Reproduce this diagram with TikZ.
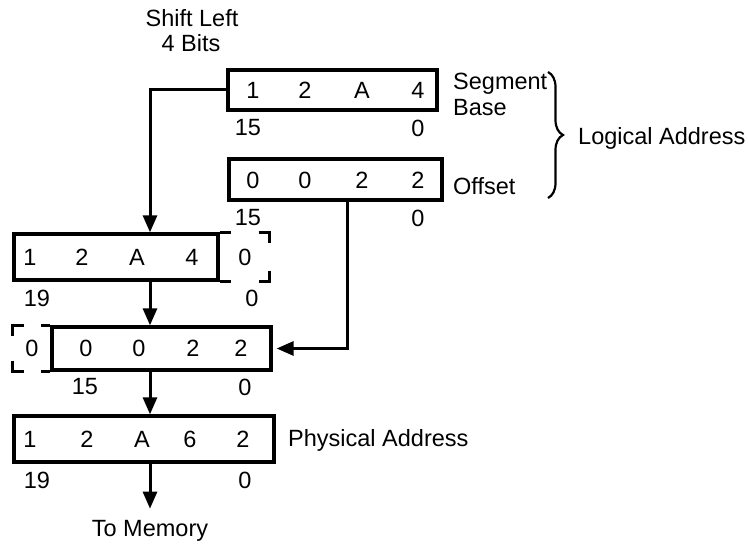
\documentclass[tikz,border=0pt]{standalone}
\usepackage{fontspec}
\setmainfont{Liberation Sans}
\usetikzlibrary{arrows.meta,calc,decorations.pathreplacing}
\begin{document}
\begin{tikzpicture}[x=1pt,y=-1pt,
  every node/.style={font=\fontsize{23.5}{27}\selectfont, inner sep=0pt},
  regbox/.style={draw, line width=3.3pt, inner sep=0pt},
  arr/.style={line width=3pt, -{Triangle[width=14pt,length=17pt]}},
  brk/.style={line width=3pt},
  word/.style={anchor=base west},
  ctext/.style={anchor=base}]
\useasboundingbox (0,0) rectangle (748,545);

% helper columns
\coordinate (col) at (150,0);
\coordinate (offx) at (347,0);

% boxes
\node[regbox, minimum width=209pt, minimum height=40pt] (seg) at (332.5,90) {};
\node[regbox, minimum width=213pt, minimum height=41pt] (off) at (335.5,179.5) {};
\node[regbox, minimum width=204pt, minimum height=46pt] (b2) at (116,257) {};
\node[regbox, minimum width=219pt, minimum height=43pt] (b3) at (161.5,348.5) {};
\node[regbox, minimum width=260pt, minimum height=46pt] (b4) at (144,439) {};

% segment base digits
\node (s1) at (253,90) {1};
\node (s2) at (305,90) {2};
\node (s3) at (362,90) {A};
\node (s4) at (418,90) {4};
\node (sl1) at (248,128) {15};
\node (sl2) at (418,128) {0};

% offset digits
\node (o1) at (253,180) {0};
\node (o2) at (305,180) {0};
\node (o3) at (362,180) {2};
\node (o4) at (418,180) {2};
\node (ol1) at (248,218) {15};
\node (ol2) at (418,218) {0};

% box 2 digits
\node (t1) at (30,257) {1};
\node (t2) at (82,257) {2};
\node (t3) at (137,257) {A};
\node (t4) at (192,257) {4};
\node (t5) at (245,257) {0};
\node (tl1) at (37,298) {19};
\node (tl2) at (252,298) {0};

% box 3 digits
\node (u0) at (32,348.5) {0};
\node (u1) at (86,348.5) {0};
\node (u2) at (139,348.5) {0};
\node (u3) at (193,348.5) {2};
\node (u4) at (241,348.5) {2};
\node (ul1) at (85,387) {15};
\node (ul2) at (245,387) {0};

% box 4 digits
\node (v1) at (30,439) {1};
\node (v2) at (87,439) {2};
\node (v3) at (142,439) {A};
\node (v4) at (190,439) {6};
\node (v5) at (243,439) {2};
\node (vl1) at (37,480) {19};
\node (vl2) at (245,480) {0};

% words
\node[ctext] (shift) at (192,27) {Shift Left};
\node[ctext] (bits) at (191,52) {4 Bits};
\node[word] (segw) at (453,90) {Segment};
\node[word] (basew) at (453,116) {Base};
\node[word] (offw) at (453,195) {Offset};
\node[word] (logw) at (578,145) {Logical Address};
\node[word] (phyw) at (288,447) {Physical Address};
\node[ctext] (mem) at (150,537) {To Memory};

% brace
\draw[line width=2.2pt, decorate, decoration={brace, amplitude=15pt}] (548,72) -- (548,198);

% dashed extension of box 2 (right)
\draw[brk] (b2.north east) -- ++(11,0);
\draw[brk] ($(b2.north east)+(39,0)$) -- ++(11,0) -- ++(0,11);
\draw[brk] ($(b2.south east)+(50,-11)$) -- ++(0,11) -- ++(-11,0);
\draw[brk] (b2.south east) -- ++(11,0);

% dashed extension of box 3 (left)
\draw[brk] ($(b3.north west)+(-26,0)$) -- ++(-12,0) -- ++(0,11);
\draw[brk] (b3.north west) -- ++(-9,0);
\draw[brk] ($(b3.south west)+(-38,-11)$) -- ++(0,11) -- ++(12,0);
\draw[brk] (b3.south west) -- ++(-9,0);

% connectors
\draw[arr] (seg.west) -| (col |- b2.north);
\draw[arr] (col |- b2.south) -- (col |- b3.north);
\draw[arr, shorten >=4pt] (offx |- off.south) |- (b3.east);
\draw[arr] (col |- b3.south) -- (col |- b4.north);
\draw[arr, shorten >=12pt] (col |- b4.south) -- (mem.north);
\end{tikzpicture}
\end{document}
